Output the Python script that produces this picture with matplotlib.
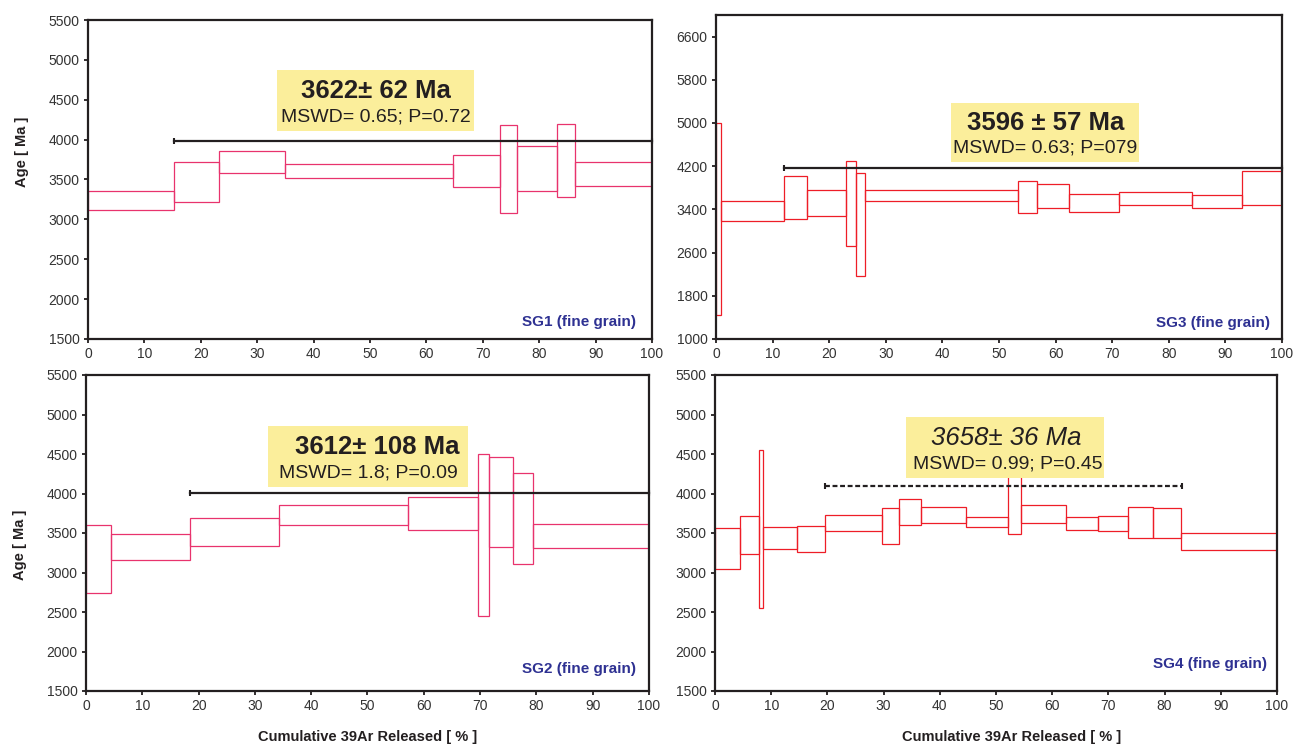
import matplotlib
matplotlib.use("Agg")
import matplotlib.pyplot as plt
from matplotlib.patches import Rectangle

plt.rcParams["font.family"] = ["Liberation Sans", "DejaVu Sans"]

# SG1 step heating spectrum (cumulative % boundaries, age ranges in Ma)
sg1_cum = [0, 15.2, 23.2, 34.9, 64.7, 73.1, 76.1, 83.2, 86.3, 100]
sg1_lo = [3120, 3220, 3585, 3520, 3405, 3085, 3360, 3275, 3415]
sg1_hi = [3360, 3720, 3860, 3695, 3805, 4185, 3925, 4200, 3720]
sg1_plateau = (15.2, 100, 3985)

# SG2
sg2_cum = [0, 4.5, 18.5, 34.3, 57.2, 69.6, 71.6, 75.9, 79.4, 100]
sg2_lo = [2745, 3160, 3335, 3595, 3535, 2455, 3325, 3105, 3305]
sg2_hi = [3595, 3490, 3695, 3855, 3960, 4505, 4460, 4265, 3610]
sg2_plateau = (18.5, 100, 4005)

# SG3
sg3_cum = [0, 0.8, 12.0, 16.0, 23.0, 24.8, 26.4, 53.3, 56.8, 62.4, 71.2, 84.1, 93.0, 100]
sg3_lo = [1450, 3190, 3220, 3270, 2730, 2160, 3550, 3340, 3430, 3360, 3490, 3425, 3490]
sg3_hi = [5000, 3560, 4020, 3750, 4300, 4070, 3760, 3920, 3875, 3680, 3725, 3675, 4110]
sg3_plateau = (12.0, 100, 4165)

# SG4
sg4_cum = [0, 4.4, 7.9, 8.5, 14.6, 19.5, 29.7, 32.8, 36.7, 44.7, 52.1, 54.4,
           62.5, 68.2, 73.5, 78.0, 83.0, 100]
sg4_lo = [3045, 3235, 2545, 3295, 3255, 3525, 3365, 3600, 3625, 3570, 3485,
          3625, 3540, 3525, 3440, 3440, 3280]
sg4_hi = [3560, 3715, 4555, 3570, 3585, 3730, 3815, 3935, 3830, 3700, 4250,
          3860, 3700, 3715, 3830, 3815, 3500]
sg4_plateau = (19.5, 83.1, 4100)

pink = "#e8336d"
red = "#ee1d27"
yellow = "#fbee9b"
navy = "#2e3192"
ink = "#231f20"

fig = plt.figure(figsize=(12.97, 7.48), dpi=100)

W, H = 1297, 748


def make_ax(l, r, t, b):
    return fig.add_axes([l / W, 1 - b / H, (r - l) / W, (b - t) / H])


def style(ax, ylim, yticks):
    ax.set_xlim(0, 100)
    ax.set_ylim(*ylim)
    ax.set_xticks(range(0, 101, 10))
    ax.set_yticks(yticks)
    for s in ax.spines.values():
        s.set_linewidth(1.6)
        s.set_color(ink)
    ax.tick_params(direction="out", length=3, width=1.3, colors=ink,
                   labelsize=10, pad=3, labelcolor="#333333")


def spectrum(ax, cum, lo, hi, color):
    for i in range(len(lo)):
        ax.add_patch(Rectangle((cum[i], lo[i]), cum[i + 1] - cum[i], hi[i] - lo[i],
                               fill=False, edgecolor=color, lw=0.9, zorder=2))


def plateau(ax, p, dashed=False):
    x0, x1, y = p
    ax.plot([x0, x1], [y, y], color=ink, lw=1.6, ls=(0, (2.2, 1.2)) if dashed else "-",
            zorder=4, clip_on=False)
    ax.plot([x0, x1], [y, y], ls="none", marker="|", ms=4, mew=1.5, color=ink,
            zorder=4, clip_on=False)


def label_box(ax, box, big_xy, small_xy, big, small, italic=False):
    # box given as (left, bottom, width, height) in axes fraction
    ax.add_patch(Rectangle(box[:2], box[2], box[3], transform=ax.transAxes,
                           facecolor=yellow, edgecolor="none", zorder=5))
    ax.text(*big_xy, big, transform=ax.transAxes, ha="center", va="center",
            fontsize=18.5, fontweight="normal" if italic else "bold",
            style="italic" if italic else "normal", color=ink, zorder=6)
    ax.text(*small_xy, small, transform=ax.transAxes, ha="center", va="center",
            fontsize=14, color=ink, zorder=6)


def sample_name(ax, xy, name):
    ax.text(*xy, name, transform=ax.transAxes, ha="right", va="center",
            fontsize=11, fontweight="bold", color=navy, zorder=6)


ax1 = make_ax(88, 652, 20, 339)
ax3 = make_ax(716, 1282, 15, 339)
ax2 = make_ax(86, 649, 375, 691)
ax4 = make_ax(715, 1277, 375, 691)

std_ticks = list(range(1500, 5501, 500))
style(ax1, (1500, 5500), std_ticks)
style(ax2, (1500, 5500), std_ticks)
style(ax3, (1000, 7000), list(range(1000, 6601, 800)))
style(ax4, (1500, 5500), std_ticks)

spectrum(ax1, sg1_cum, sg1_lo, sg1_hi, pink)
spectrum(ax2, sg2_cum, sg2_lo, sg2_hi, pink)
spectrum(ax3, sg3_cum, sg3_lo, sg3_hi, red)
spectrum(ax4, sg4_cum, sg4_lo, sg4_hi, red)

plateau(ax1, sg1_plateau)
plateau(ax2, sg2_plateau)
plateau(ax3, sg3_plateau)
plateau(ax4, sg4_plateau, dashed=True)

label_box(ax1, (0.335, 0.652, 0.349, 0.191), (0.51, 0.777), (0.51, 0.697),
          "3622\u00b1 62 Ma", "MSWD= 0.65; P=0.72")
label_box(ax2, (0.323, 0.646, 0.355, 0.193), (0.517, 0.771), (0.501, 0.691),
          "3612\u00b1 108 Ma", "MSWD= 1.8; P=0.09")
label_box(ax3, (0.415, 0.546, 0.332, 0.182), (0.582, 0.668), (0.582, 0.588),
          "3596 \u00b1 57 Ma", "MSWD= 0.63; P=079")
label_box(ax4, (0.340, 0.674, 0.352, 0.193), (0.518, 0.802), (0.521, 0.717),
          "3658\u00b1 36 Ma", "MSWD= 0.99; P=0.45", italic=True)

sample_name(ax1, (0.972, 0.053), "SG1 (fine grain)")
sample_name(ax2, (0.977, 0.07), "SG2 (fine grain)")
sample_name(ax3, (0.979, 0.05), "SG3 (fine grain)")
sample_name(ax4, (0.982, 0.085), "SG4 (fine grain)")

for ax, y in [(ax1, 0.586), (ax2, 0.462)]:
    ax.set_ylabel("Age [ Ma ]", fontsize=10.5, fontweight="bold", color=ink)
    ax.yaxis.set_label_coords(-0.104, y)
for ax, x in [(ax2, 0.5), (ax4, 0.527)]:
    ax.set_xlabel("Cumulative 39Ar Released [ % ]", fontsize=10.5, fontweight="bold", color=ink)
    ax.xaxis.set_label_coords(x, -0.125)

fig.savefig("out.png", dpi=100)
